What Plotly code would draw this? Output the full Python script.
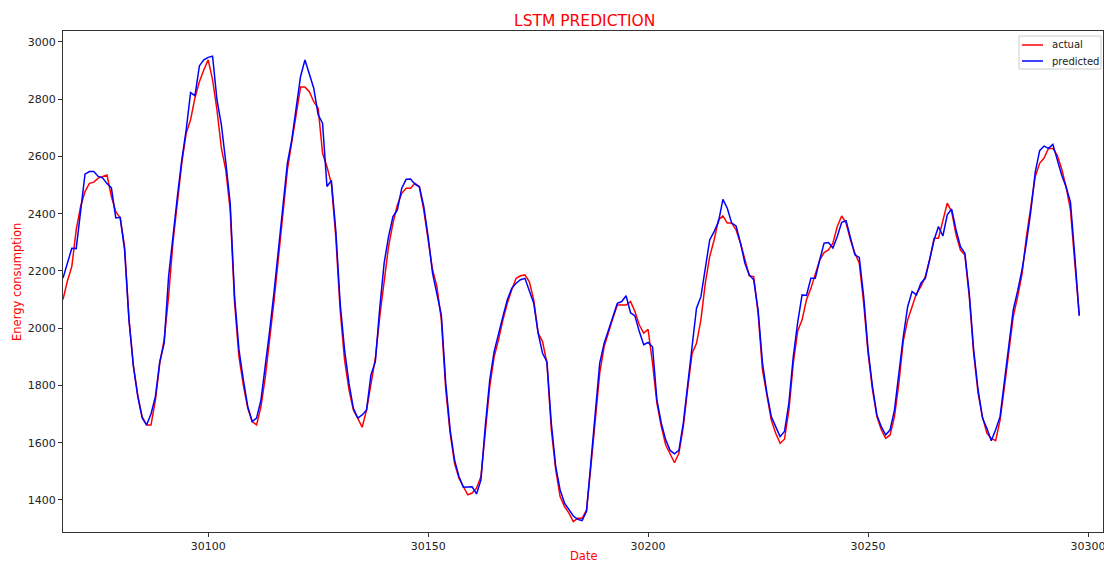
import plotly.graph_objects as go

start_date = 30067

actual = [
    2100, 2165, 2215, 2343, 2425, 2477, 2506, 2510, 2524, 2530, 2535, 2460, 2407, 2385, 2285, 2030, 1870, 1765, 1690, 1662, 1662, 1749, 1878, 1960,
    2110, 2300, 2440, 2576, 2681, 2728, 2805, 2861, 2902, 2937, 2867, 2762, 2629, 2553, 2414, 2090, 1900, 1800, 1720, 1674, 1662, 1726, 1831, 1959,
    2100, 2250, 2400, 2553, 2650, 2751, 2842, 2842, 2826, 2791, 2768, 2611, 2564, 2506, 2320, 2064, 1889, 1785, 1714, 1686, 1654, 1714, 1808, 1895,
    2040, 2168, 2285, 2367, 2430, 2471, 2489, 2489, 2506, 2494, 2413, 2308, 2204, 2145, 2029, 1785, 1633, 1528, 1476, 1447, 1418, 1424, 1441, 1482,
    1645, 1796, 1900, 1959, 2029, 2087, 2134, 2174, 2183, 2186, 2162, 2099, 1983, 1953, 1878, 1645, 1505, 1412, 1377, 1354, 1324, 1336, 1336, 1365,
    1517, 1680, 1843, 1935, 1988, 2035, 2081, 2081, 2081, 2093, 2058, 2011, 1983, 1996, 1878, 1738, 1656, 1592, 1563, 1530, 1563, 1656, 1790, 1912,
    1947, 2029, 2157, 2250, 2308, 2378, 2392, 2367, 2367, 2343, 2297, 2238, 2183, 2180, 2052, 1854, 1761, 1679, 1633, 1598, 1612, 1714, 1878, 1990,
    2029, 2099, 2139, 2186, 2238, 2264, 2273, 2297, 2355, 2392, 2367, 2308, 2262, 2227, 2087, 1913, 1785, 1691, 1645, 1615, 1627, 1691, 1808, 1955,
    2029, 2075, 2122, 2145, 2180, 2238, 2314, 2314, 2372, 2437, 2407, 2326, 2273, 2256, 2110, 1913, 1773, 1691, 1633, 1615, 1607, 1679, 1796, 1924,
    2040, 2110, 2190, 2320, 2420, 2530, 2576, 2594, 2628, 2628, 2604, 2557, 2494, 2413, 2227, 2047,
]

predicted = [
    2175, 2228, 2279, 2278, 2420, 2538, 2547, 2547, 2530, 2525, 2505, 2490, 2385, 2387, 2273, 2029, 1866, 1761, 1686, 1662, 1700, 1761, 1883, 1948,
    2180, 2332, 2460, 2588, 2693, 2823, 2812, 2916, 2937, 2946, 2950, 2797, 2710, 2580, 2437, 2110, 1924, 1819, 1726, 1674, 1686, 1749, 1866, 1994,
    2130, 2280, 2430, 2576, 2658, 2763, 2879, 2937, 2891, 2838, 2745, 2716, 2495, 2516, 2343, 2087, 1924, 1808, 1720, 1686, 1697, 1714, 1837, 1883,
    2070, 2227, 2320, 2390, 2413, 2489, 2520, 2521, 2503, 2494, 2425, 2320, 2192, 2122, 2046, 1808, 1645, 1540, 1482, 1444, 1444, 1446, 1421, 1470,
    1660, 1819, 1918, 1983, 2041, 2099, 2139, 2157, 2169, 2174, 2134, 2087, 1983, 1912, 1883, 1668, 1516, 1435, 1389, 1365, 1344, 1332, 1328, 1360,
    1528, 1691, 1878, 1947, 1994, 2041, 2087, 2093, 2113, 2054, 2043, 1988, 1942, 1950, 1935, 1749, 1668, 1610, 1573, 1561, 1573, 1668, 1808, 1925,
    2070, 2110, 2204, 2308, 2337, 2372, 2450, 2419, 2367, 2357, 2297, 2227, 2186, 2169, 2064, 1878, 1773, 1691, 1656, 1621, 1639, 1738, 1901, 2020,
    2116, 2114, 2174, 2174, 2238, 2297, 2299, 2280, 2320, 2370, 2375, 2314, 2256, 2247, 2110, 1924, 1796, 1697, 1656, 1627, 1645, 1714, 1843, 1970,
    2075, 2128, 2116, 2157, 2174, 2238, 2308, 2355, 2322, 2396, 2416, 2343, 2285, 2262, 2122, 1924, 1785, 1686, 1650, 1607, 1645, 1691, 1819, 1947,
    2064, 2130, 2204, 2300, 2410, 2545, 2620, 2636, 2628, 2642, 2590, 2535, 2494, 2440, 2250, 2043,
]

dates = list(range(start_date, start_date + len(actual)))
assert len(actual) == len(predicted)

x_ticks = [30100, 30150, 30200, 30250, 30300]
y_ticks = [1400, 1600, 1800, 2000, 2200, 2400, 2600, 2800, 3000]
series_names = ["actual", "predicted"]
series_colors = ["red", "blue"]

FONT = "DejaVu Sans"
W, H = 1104, 562
# plot area in screen pixels
PL, PR, PT, PB = 63, 1103, 31, 532
L, T = PL, PT
R = W - PR
B = H - PB

fig = go.Figure()
for name, vals, col in zip(series_names, [actual, predicted], series_colors):
    fig.add_trace(go.Scatter(x=dates, y=vals, mode="lines", name=name,
                             line=dict(color=col, width=1.5), showlegend=False))

axis_common = dict(
    showgrid=False, zeroline=False, showline=True, mirror=True,
    linecolor="#333333", linewidth=1, ticks="outside", ticklen=4,
    tickcolor="#333333", tickfont=dict(family=FONT, size=11, color="#222222"),
    automargin=False, ticklabeloverflow="allow",
)


# screen pixel -> paper (plot-area fraction)
def px_x(p):
    return (p - PL) / (PR - PL)


def px_y(p):
    return (PB - p) / (PB - PT)


shapes = [
    dict(type="rect", xref="paper", yref="paper",
         x0=px_x(1019), x1=px_x(1101), y0=px_y(69), y1=px_y(36),
         line=dict(color="#cccccc", width=1), fillcolor="rgba(255,255,255,0.8)", layer="above"),
]
annotations = []
for i, (name, col) in enumerate(zip(series_names, series_colors)):
    yy = 45 + i * 16
    shapes.append(dict(type="line", xref="paper", yref="paper",
                       x0=px_x(1022), x1=px_x(1043), y0=px_y(yy), y1=px_y(yy),
                       line=dict(color=col, width=1.5), layer="above"))
    annotations.append(dict(text=name, xref="paper", yref="paper",
                            x=px_x(1050), y=px_y(yy), xanchor="left", yanchor="middle",
                            showarrow=False, font=dict(family=FONT, size=10, color="#222222")))

annotations.append(dict(text="Date", xref="paper", yref="paper",
                        x=px_x(584), y=px_y(556), xanchor="center", yanchor="middle",
                        showarrow=False, font=dict(family=FONT, size=11.5, color="red")))
annotations.append(dict(text="Energy consumption", xref="paper", yref="paper",
                        x=px_x(17), y=px_y(282), xanchor="center", yanchor="middle", textangle=-90,
                        showarrow=False, font=dict(family=FONT, size=11.5, color="red")))
annotations.append(dict(text="LSTM PREDICTION", xref="paper", yref="paper",
                        x=px_x(584), y=px_y(21), xanchor="center", yanchor="middle",
                        showarrow=False, font=dict(family=FONT, size=15.5, color="red")))

fig.update_layout(
    width=W, height=H,
    margin=dict(l=L, r=R, t=T, b=B, autoexpand=False),
    paper_bgcolor="white", plot_bgcolor="white",
    font=dict(family=FONT),
    xaxis=dict(range=[30067, 30303.4], tickvals=x_ticks, ticktext=[str(v) for v in x_ticks],
               **axis_common),
    yaxis=dict(range=[1288, 3038], tickvals=y_ticks, ticktext=[str(v) for v in y_ticks],
               **axis_common),
    shapes=shapes,
    annotations=annotations,
    showlegend=False,
)

fig.write_html(
    "out.html",
    config={"displayModeBar": False},
    post_script="document.body.style.margin='0';document.body.style.overflow='hidden';",
)
